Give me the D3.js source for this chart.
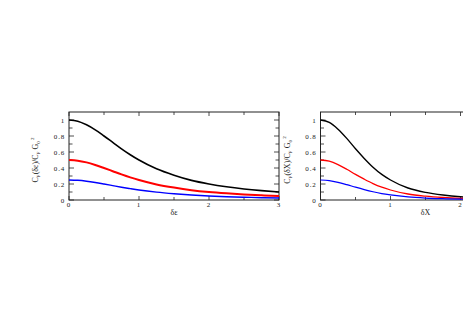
<!DOCTYPE html>
<html>
<head>
    <style>
        body { margin: 0; background: #fff; }
        svg text { font-family: "Liberation Serif", "DejaVu Serif", serif; fill: #222; }
        .tick-label { font-size: 7px; letter-spacing: 0.8px; }
        .axis-title { font-size: 8px; }
    </style>
    <script src="https://d3js.org/d3.v7.min.js"></script>
</head>
<body>
    <svg width="463" height="327"></svg>
    <script>
        // values
        var xLeft = [0, 0.125, 0.25, 0.375, 0.5, 0.625, 0.75, 0.875, 1, 1.25, 1.5, 1.75, 2, 2.25, 2.5, 2.75, 3];
        var blackLeft = [1, 0.985, 0.94, 0.877, 0.8, 0.72, 0.64, 0.566, 0.5, 0.39, 0.31, 0.245, 0.2, 0.165, 0.138, 0.117, 0.1];
        var redLeft   = [0.5, 0.492, 0.47, 0.438, 0.4, 0.36, 0.32, 0.283, 0.25, 0.195, 0.155, 0.123, 0.1, 0.083, 0.069, 0.059, 0.05];
        var blueLeft  = [0.25, 0.246, 0.235, 0.219, 0.2, 0.18, 0.16, 0.142, 0.125, 0.098, 0.078, 0.062, 0.05, 0.041, 0.035, 0.029, 0.025];

        var xRight = [0, 0.125, 0.25, 0.375, 0.5, 0.625, 0.75, 0.875, 1, 1.25, 1.5, 1.75, 2, 2.25, 2.5, 2.75, 3];
        var blackRight = [1, 0.97, 0.885, 0.77, 0.64, 0.52, 0.41, 0.32, 0.25, 0.15, 0.095, 0.062, 0.04, 0.028, 0.019, 0.014, 0.01];
        var redRight   = [0.5, 0.485, 0.443, 0.385, 0.32, 0.26, 0.205, 0.16, 0.125, 0.075, 0.048, 0.031, 0.02, 0.014, 0.01, 0.007, 0.005];
        var blueRight  = [0.25, 0.242, 0.221, 0.192, 0.16, 0.13, 0.103, 0.08, 0.063, 0.038, 0.024, 0.016, 0.01, 0.007, 0.005, 0.004, 0.003];

        var yTicks = [0, 0.2, 0.4, 0.6, 0.8, 1];
        var yTickText = ["0", "0.2", "0.4", "0.6", "0.8", "1"];
        var xTicks = [0, 1, 2, 3];

        var svg = d3.select("svg");
        svg.append("rect").attr("width", 463).attr("height", 327).attr("fill", "#fff");

        function panel(left, xs, series, widths, xName) {
            var top = 112, bottom = 200, w = 210;
            var x = d3.scaleLinear().domain([0, 3]).range([left, left + w]);
            var y = d3.scaleLinear().domain([0, 1.1]).range([bottom, top]);
            var g = svg.append("g");

            // frame
            g.append("rect").attr("x", left).attr("y", top).attr("width", w).attr("height", bottom - top)
                .attr("fill", "none").attr("stroke", "#222").attr("stroke-width", 1);

            // y ticks, both sides, pointing in
            d3.range(0, 11).forEach(function(i) {
                var v = i / 10, py = y(v);
                var len = i % 2 == 0 ? 5 : 3.5;
                g.append("line").attr("x1", left).attr("x2", left + len).attr("y1", py).attr("y2", py)
                    .attr("stroke", "#222").attr("stroke-width", 0.8);
                g.append("line").attr("x1", left + w).attr("x2", left + w - len).attr("y1", py).attr("y2", py)
                    .attr("stroke", "#222").attr("stroke-width", 0.8);
            });
            // x ticks, top and bottom
            d3.range(0, 7).forEach(function(i) {
                var px = x(i / 2);
                var len = i % 2 == 0 ? 4 : 3;
                g.append("line").attr("x1", px).attr("x2", px).attr("y1", bottom).attr("y2", bottom - len)
                    .attr("stroke", "#222").attr("stroke-width", 0.8);
                g.append("line").attr("x1", px).attr("x2", px).attr("y1", top).attr("y2", top + len)
                    .attr("stroke", "#222").attr("stroke-width", 0.8);
            });

            yTicks.forEach(function(v, i) {
                g.append("text").attr("class", "tick-label").attr("x", left - 4).attr("y", y(v) + 2.5)
                    .attr("text-anchor", "end").text(yTickText[i]);
            });
            xTicks.forEach(function(v) {
                g.append("text").attr("class", "tick-label").attr("x", x(v)).attr("y", 207)
                    .attr("text-anchor", "middle").text(v);
            });

            // axis titles
            g.append("text").attr("class", "axis-title").attr("x", left + w / 2).attr("y", 215)
                .attr("text-anchor", "middle").text(xName);

            var t = g.append("text").attr("class", "axis-title")
                .attr("transform", "translate(" + (left - 31) + "," + ((top + bottom) / 2 + 4) + ") rotate(-90)")
                .attr("text-anchor", "middle");
            t.append("tspan").text("C");
            t.append("tspan").attr("dy", 2).attr("font-size", 5).text("F");
            t.append("tspan").attr("dy", -2).text("(" + xName + ")/C");
            t.append("tspan").attr("dy", 2).attr("font-size", 5).text("F");
            t.append("tspan").attr("dy", -2).text(" G");
            t.append("tspan").attr("dy", 2).attr("font-size", 5).text("0");
            t.append("tspan").attr("dy", -6).attr("font-size", 5).text(" 2");

            var line = d3.line()
                .x(function(d) { return x(d[0]); })
                .y(function(d) { return y(d[1]); })
                .curve(d3.curveMonotoneX);

            var colors = ["#000", "#ff0000", "#0000ff"];
            series.forEach(function(s, i) {
                g.append("path")
                    .datum(xs.map(function(v, j) { return [v, s[j]]; }))
                    .attr("d", line)
                    .attr("fill", "none")
                    .attr("stroke", colors[i])
                    .attr("stroke-width", widths[i]);
            });
        }

        panel(69, xLeft, [blackLeft, redLeft, blueLeft], [1.6, 2, 1.4], "\u03b4\u03b5");
        panel(320.5, xRight, [blackRight, redRight, blueRight], [1.4, 1.3, 1.2], "\u03b4X");
    </script>
</body>
</html>
